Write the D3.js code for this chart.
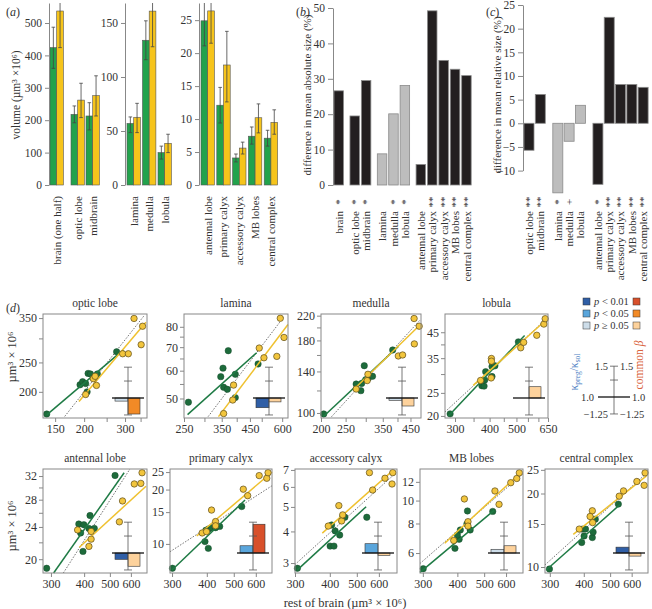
<!DOCTYPE html>
<html>
<head>
<meta charset="utf-8">
<script src="https://cdn.jsdelivr.net/npm/d3@7"></script>
<style>
  body { margin: 0; background: #fff; }
  svg, text { font-family: "Liberation Serif", "Times New Roman", Tinos, "DejaVu Serif", serif !important; }
  text { fill: #333; }
</style>
</head>
<body>
<div class="canvas"></div>
<script>
// ---------- data ----------

// (a) mean volumes (µm³ × 10⁶), green vs yellow group, with error bars
const regionsA1 = ['brain (one half)', 'optic lobe', 'midbrain'];
const regionsA2 = ['lamina', 'medulla', 'lobula'];
const regionsA3 = ['antennal lobe', 'primary calyx', 'accessory calyx', 'MB lobes', 'central complex'];
const volGreen    = [424, 218, 213, 57, 134, 30, 24.9, 12.1, 4.1, 7.4, 7.1];
const volGreenLo  = [360, 192, 170, 48.5, 116, 24, 21.1, 9.4, 3.5, 6.2, 5.9];
const volGreenHi  = [487, 244, 254, 63, 152, 36, 28, 14.8, 4.7, 8.8, 8.3];
const volYellow   = [537, 262, 276, 62.7, 161, 38.6, 26.4, 18.2, 5.6, 10.2, 9.5];
const volYellowLo = [424, 208, 213, 48.5, 128, 30, 21.5, 12.6, 4.7, 7.9, 7.7];
const volYellowHi = [575, 314, 337, 75.6, 172, 47, 28, 23.3, 6.5, 12.3, 11.4];

// (b) difference in mean absolute size (%)
const regionsB = ['brain', 'optic lobe', 'midbrain', 'lamina', 'medulla', 'lobula',
  'antennal lobe', 'primary calyx', 'accessory calyx', 'MB lobes', 'central complex'];
const absDiff = [26.6, 19.5, 29.5, 8.8, 20.1, 28.1, 5.8, 49.2, 35.2, 32.7, 30.9];
const absSig  = ['*', '*', '*', '', '*', '*', '', '**', '**', '**', '**'];

// (c) difference in mean relative size (%)
const regionsC = ['optic lobe', 'midbrain', 'lamina', 'medulla', 'lobula',
  'antennal lobe', 'primary calyx', 'accessory calyx', 'MB lobes', 'central complex'];
const relDiff = [-5.7, 6.1, -14.7, -3.8, 3.8, -12.9, 22.4, 8.2, 8.2, 7.6];
const relSig  = ['**', '**', '*', '+', '', '*', '**', '**', '**', '**'];
const relTicks = [-10, -5, 0, 5, 10, 15, 20, 25];

// (d) region volume vs rest of brain, [x, y] in µm³ × 10⁶
const scatterTitles = ['optic lobe', 'lamina', 'medulla', 'lobula',
  'antennal lobe', 'primary calyx', 'accessory calyx', 'MB lobes', 'central complex'];
const greenPts = [
  [[138,169],[192,211],[197,216],[203,213],[206,200],[208,230],[213,229],[223,225],[228,229],[276,271]],
  [[260,48.8],[347,57.7],[354,61],[371,68.4],[356,53.8],[368,53.1],[395,58.6],[395,50.3],[484,62.7]],
  [[205,99.2],[275,126.4],[287,119.8],[289,127],[296,146.7],[307,132.4],[319,134.6],[300,131],[383,166.6]],
  [[288,20.4],[375,26.8],[382,26.7],[387,30.7],[384,28.3],[408,29.3],[408,32.3],[418,32.5],[508,41]],
  [[289,19],[382,24.4],[399,24.3],[388,23.2],[421,25.6],[417,23.8],[437,23.8],[396,20.9],[523,32.1]],
  [[301,7.33],[394,10.3],[405,9.45],[397,11.9],[406,12.1],[416,12.3],[430,12.3],[445,12.5],[534,16.1]],
  [[306,2.86],[406,4.24],[418,4.02],[401,3.5],[414,3.5],[434,3.87],[445,4.55],[453,4.55],[543,4.55]],
  [[301,5.15],[392,6.28],[406,6.86],[400,7.15],[410,7.51],[445,7.51],[433,7.96],[435,9.04],[537,9.0]],
  [[299,9.81],[393,12.6],[401,13.4],[396,14.3],[406,14.3],[430,13.2],[433,13.9],[441,15.7],[536,18.1]]
];
const yellowPts = [
  [[203,196],[226,210],[219,221],[223,225],[293,267],[310,267],[328,349],[357,329],[352,286]],
  [[356,45.3],[389,54.6],[386,49.5],[489,69.6],[510,65.3],[572,65.9],[590,84.6],[610,74.6]],
  [[275,121.4],[304,130],[306,136.8],[403,158.7],[419,160],[466,175],[465,215],[487,202]],
  [[371,28.2],[405,28.9],[406,34.9],[406,34],[518,38.7],[531,40.8],[592,43.7],[628,48.7],[635,51.3]],
  [[378,23.6],[425,23.4],[425,22.4],[417,21.5],[543,24.7],[558,27.8],[618,30.6],[654,30.7],[661,32.6]],
  [[385,11.5],[399,11.7],[416,15.4],[430,13.3],[430,12.6],[541,20.1],[561,18.5],[617,23.9],[657,23.1],[664,24.8]],
  [[395,4.2],[431,5.06],[441,4.4],[445,4.65],[555,6.83],[570,5.83],[631,6.49],[669,6.16],[673,6.83]],
  [[388,6.78],[424,10.16],[437,8.14],[437,7.8],[547,10.98],[566,9.64],[624,11.9],[656,12.4],[670,13.1]],
  [[385,14.3],[430,17.0],[422,16.1],[431,15.2],[540,19.5],[560,20.5],[627,22.4],[667,21.6],[672,24.3]]
];
// fitted lines [x1, y1, x2, y2]
const greenFit = [[138,168,295,275],[258,45,478,67.5],[204,97,403,171.5],[284,20,535,43.6],[307,18.5,566,32.6],
  [300,7.17,549,17.5],[306,2.82,540,5.01],[293,4.97,543,9.09],[291,9.72,543,18.0]];
const yellowFit = [[190,186,369,339],[340,44.4,632,81.2],[271,121.6,490,204],[349,26.9,650,51.5],[384,21.4,684,30.2],
  [368,11.06,686,25],[376,3.94,676,6.99],[360,6.6,686,13.3],[366,13.6,680,23.6]];
const isoFit = [[165,166,363,357],[310,44.4,606,85],[220,97,490,212],[276,20.8,650,52],[334,18.5,595,33.3],
  [295,9.05,686,21],[300,2.96,684,6.75],[293,5.42,691,12.99],[288,10.2,680,24.2]];
const xTicksD = [[150,200,300],[250,350,450,600],[200,250,350,450],[300,400,500,650],
  [300,400,500,600],[300,400,500,600],[300,400,500,600],[300,400,500,600],[300,400,500,600]];
const yTicksD = [[200,250,350],[50,60,70,80],[100,140,180,220],[20,25,35,45],
  [20,24,28,32],[10,15,20,25],[3,4,5,6,7],[6,8,10,12],[10,15,20,25]];

// inset ratios: slope ratio (kappa) and common beta, with significance class
const slopeRatio = [0.96, 0.88, 0.97, 1.0, 0.92, 1.10, 1.13, 1.05, 1.08];
const slopeP     = ['ns', 'p01', 'ns', 'ns', 'p01', 'p05', 'p05', 'ns', 'p01'];
const betaRatio  = [0.81, 0.95, 0.90, 1.16, 0.84, 1.46, 0.97, 1.10, 0.96];
const betaP      = ['p05', 'ns', 'ns', 'ns', 'ns', 'p01', 'ns', 'ns', 'ns'];
const legendP    = [['p01', 'p < 0.01'], ['p05', 'p < 0.05'], ['ns', 'p ≥ 0.05']];

// ---------- setup ----------
const svg = d3.select('.canvas')
  .append('svg')
  .attr('width', 652)
  .attr('height', 609);

const serif = '"Liberation Serif", "Times New Roman", serif';
const kappaCol = {p01: '#2f5ea6', p05: '#5aa6dc', ns: '#cddde9'};
const betaCol = {p01: '#d8502b', p05: '#f28a26', ns: '#fdd29c'};

// slot positions with an extra gap between groups
const slotsFor = (sizes, gap) => {
  const out = [];
  let s = 0;
  sizes.forEach((n, gi) => {
    for (let i = 0; i < n; i++) out.push(s + i + gi * gap);
    s += n;
  });
  return out;
};

const styleAxis = (g, size) => {
  g.attr('font-family', serif).attr('font-size', size);
  g.selectAll('path, line').attr('stroke', '#888');
};

const panelLabel = (x, y, letter) => {
  const t = svg.append('text').attr('x', x).attr('y', y).attr('font-size', 12);
  t.append('tspan').text('(');
  t.append('tspan').attr('font-style', 'italic').text(letter);
  t.append('tspan').text(')');
};

const rotLabel = (x, y, txt, anchor, size) => svg.append('text')
  .attr('transform', `translate(${x},${y}) rotate(-90)`)
  .attr('text-anchor', anchor)
  .attr('dy', '0.35em')
  .attr('font-size', size)
  .text(txt);

// ---------- (a) ----------
panelLabel(6, 16, 'a');
rotLabel(16, 95, 'volume (µm³ ×10⁶)', 'middle', 11.5);

const aGroups = [regionsA1, regionsA2, regionsA3];
const aSetup = [
  {x0: 50, step: 15, slots: slotsFor([1, 2], 0.4), axisX: 49, max: 561.7, ticks: [0, 100, 200, 300, 400, 500]},
  {x0: 127, step: 15.5, slots: slotsFor([3], 0), axisX: 125, max: 168.5, ticks: [0, 50, 100, 150]},
  {x0: 201, step: 15.8, slots: slotsFor([5], 0), axisX: 199, max: 27.6, ticks: [0, 5, 10, 15, 20, 25]}
];
const bw = 6.7;
let k0 = 0;
aGroups.forEach((cats, gi) => {
  const s = aSetup[gi];
  const y = d3.scaleLinear().domain([0, s.max]).range([185, 3]);
  const slot = d3.scaleLinear().domain([0, 1]).range([s.x0, s.x0 + s.step]);
  const g = svg.append('g');

  cats.forEach((c, i) => {
    const k = k0 + i;
    const x = slot(s.slots[i]);
    const bars = [
      {v: volGreen[k], lo: volGreenLo[k], hi: volGreenHi[k], fill: '#22a24c', x: x},
      {v: volYellow[k], lo: volYellowLo[k], hi: volYellowHi[k], fill: '#f6c41b', x: x + bw}
    ];
    bars.forEach(b => {
      g.append('rect')
        .attr('x', b.x).attr('y', y(b.v))
        .attr('width', bw).attr('height', y(0) - y(b.v))
        .attr('fill', b.fill).attr('stroke', '#555').attr('stroke-width', 0.6);
      const cx = b.x + bw / 2;
      const top = y(Math.min(b.hi, s.max));
      g.append('line').attr('x1', cx).attr('x2', cx).attr('y1', top).attr('y2', y(b.lo))
        .attr('stroke', '#444').attr('stroke-width', 0.8);
      [b.lo, b.hi].forEach(v => {
        if (v > s.max) return;
        g.append('line').attr('x1', cx - 1.8).attr('x2', cx + 1.8).attr('y1', y(v)).attr('y2', y(v))
          .attr('stroke', '#444').attr('stroke-width', 0.8);
      });
    });
    rotLabel(x + bw, 196, c, 'end', 11);
  });

  g.append('g')
    .attr('transform', `translate(${s.axisX},0)`)
    .call(d3.axisLeft(y).tickValues(s.ticks).tickSize(4).tickSizeOuter(0).tickPadding(3))
    .call(a => styleAxis(a, 11.5));
  k0 += cats.length;
});

// ---------- (b) ----------
panelLabel(296, 16, 'b');
rotLabel(307, 95, 'difference in mean absolute size (%)', 'middle', 11);
const yB = d3.scaleLinear().domain([0, 50]).range([185, 8]);
const slotB = d3.scaleLinear().domain([0, 1]).range([334, 345.4]);
const bSlots = slotsFor([1, 2, 3, 5], 0.4);
regionsB.forEach((c, i) => {
  const x = slotB(bSlots[i]);
  svg.append('rect')
    .attr('x', x).attr('y', yB(absDiff[i]))
    .attr('width', 9.5).attr('height', yB(0) - yB(absDiff[i]))
    .attr('fill', regionsA2.includes(c) ? '#bdbdbd' : '#231f20')
    .attr('stroke', '#8a8a8a').attr('stroke-width', 0.8);
  rotLabel(x + 5, 211, c, 'end', 11);
  if (absSig[i]) rotLabel(x + 5, 202, absSig[i], 'middle', 11);
});
svg.append('g')
  .attr('transform', 'translate(333,0)')
  .call(d3.axisLeft(yB).tickValues([0, 10, 20, 30, 40, 50]).tickSize(5).tickSizeOuter(0).tickPadding(3))
  .call(a => styleAxis(a, 11.5));

// ---------- (c) ----------
panelLabel(486, 16, 'c');
rotLabel(497, 95, 'difference in mean relative size (%)', 'middle', 11);
const yC = d3.scaleLinear().domain([-10, 25]).range([170.6, 5]);
const slotC = d3.scaleLinear().domain([0, 1]).range([524, 535.3]);
const cSlots = slotsFor([2, 3, 5], 0.55);
regionsC.forEach((c, i) => {
  const x = slotC(cSlots[i]);
  const v = relDiff[i];
  svg.append('rect')
    .attr('x', x).attr('y', Math.min(yC(v), yC(0)))
    .attr('width', 10).attr('height', Math.abs(yC(v) - yC(0)))
    .attr('fill', regionsA2.includes(c) ? '#bdbdbd' : '#231f20')
    .attr('stroke', '#8a8a8a').attr('stroke-width', 0.8);
  rotLabel(x + 5, 211, c, 'end', 11);
  if (relSig[i]) rotLabel(x + 5, 202, relSig[i], 'middle', 11);
});
svg.append('g')
  .attr('transform', 'translate(523,0)')
  .call(d3.axisLeft(yC).tickValues(relTicks).tickFormat(d => d < 0 ? '−' + (-d) : d)
    .tickSize(5).tickSizeOuter(0).tickPadding(3))
  .call(a => styleAxis(a, 11.5));

// ---------- (d) ----------
panelLabel(6, 312, 'd');
rotLabel(12, 357, 'µm³ × 10⁶', 'middle', 12.5);
rotLabel(12, 526, 'µm³ × 10⁶', 'middle', 12.5);
svg.append('text').attr('x', 345).attr('y', 607).attr('text-anchor', 'middle')
  .attr('font-size', 12.5).text('rest of brain (µm³ × 10⁶)');

const dPanels = [
  {x: 43, y: 314, w: 104, h: 104, xd: [133, 373], yd: [164, 361], xm: [250, 350], ym: [300]},
  {x: 184, y: 314, w: 104, h: 104, xd: [250, 632], yd: [44, 87], xm: [300, 400, 500], ym: [55, 65, 75]},
  {x: 321, y: 314, w: 100, h: 104, xd: [200, 495], yd: [96, 223], xm: [300, 400], ym: [120, 160, 200]},
  {x: 445, y: 314, w: 103, h: 104, xd: [276, 650], yd: [19.6, 53.7], xm: [350, 450, 550, 600], ym: [30, 40]},
  {x: 43, y: 469, w: 104, h: 104, xd: [280, 690], yd: [18.5, 33.3], xm: [], ym: [22, 26, 30]},
  {x: 170, y: 469, w: 102, h: 104, xd: [295, 686], yd: [6.9, 26], xm: [], ym: []},
  {x: 295, y: 469, w: 102, h: 104, xd: [300, 697], yd: [2.74, 7.06], xm: [], ym: []},
  {x: 420, y: 469, w: 103, h: 104, xd: [293, 691], yd: [4.94, 13.6], xm: [], ym: []},
  {x: 545, y: 469, w: 103, h: 104, xd: [288, 689], yd: [9.45, 25.2], xm: [], ym: []}
];

// inset: ratio bars on a log scale around 1, with a reference bar (1.5 / 1.25 / 0.8)
const drawInset = (g, cx, base, kv, kp, bv, bp) => {
  const yI = d3.scaleLog().domain([1, 1.5]).range([base, base - 76 * Math.log(1.5)]);
  if (kv !== null) {
    [[kv, kappaCol[kp], cx - 13, 13], [bv, betaCol[bp], cx, 12]].forEach(([v, col, x, w]) => {
      g.append('rect')
        .attr('x', x).attr('y', Math.min(yI(v), base))
        .attr('width', w).attr('height', Math.abs(yI(v) - base))
        .attr('fill', col).attr('stroke', '#333').attr('stroke-width', 0.6);
    });
  }
  g.append('line').attr('x1', cx).attr('x2', cx).attr('y1', yI(1.5)).attr('y2', yI(0.8))
    .attr('stroke', '#555').attr('stroke-width', 0.8);
  [1.5, 1.25, 0.8].forEach(v => {
    g.append('line').attr('x1', cx - 4).attr('x2', cx + 4).attr('y1', yI(v)).attr('y2', yI(v))
      .attr('stroke', '#555').attr('stroke-width', 0.8);
  });
  g.append('line').attr('x1', cx - 16).attr('x2', cx + 16).attr('y1', base).attr('y2', base)
    .attr('stroke', '#111').attr('stroke-width', 1.3);
  return yI;
};

dPanels.forEach((p, i) => {
  const g = svg.append('g');
  const x = d3.scaleLog().domain(p.xd).range([p.x, p.x + p.w]);
  const y = d3.scaleLog().domain(p.yd).range([p.y + p.h, p.y]);

  g.append('text').attr('x', p.x + p.w / 2).attr('y', p.y - 7)
    .attr('text-anchor', 'middle').attr('font-size', 11.5).text(scatterTitles[i]);

  const seg = (f, col, w, dash) => g.append('line')
    .attr('x1', x(f[0])).attr('y1', y(f[1])).attr('x2', x(f[2])).attr('y2', y(f[3]))
    .attr('stroke', col).attr('stroke-width', w).attr('stroke-dasharray', dash);

  seg(isoFit[i], '#333', 0.7, '1.5,1.5');

  g.selectAll('.gdot').data(greenPts[i]).enter().append('circle')
    .attr('cx', d => x(d[0])).attr('cy', d => y(d[1])).attr('r', 3.2)
    .attr('fill', '#1d6b3b').attr('stroke', '#164d2c').attr('stroke-width', 0.5);

  seg(greenFit[i], '#1f7b45', 1.5, null);
  seg(yellowFit[i], '#efc12f', 1.5, null);

  g.selectAll('.ydot').data(yellowPts[i]).enter().append('circle')
    .attr('cx', d => x(d[0])).attr('cy', d => y(d[1])).attr('r', 3.2)
    .attr('fill', '#f2c53d').attr('stroke', '#5c4b1a').attr('stroke-width', 0.7);

  drawInset(g, p.x + p.w - 19, p.y + p.h - 20, slopeRatio[i], slopeP[i], betaRatio[i], betaP[i]);

  g.append('rect').attr('x', p.x).attr('y', p.y).attr('width', p.w).attr('height', p.h)
    .attr('fill', 'none').attr('stroke', '#888').attr('stroke-width', 1);

  // axes
  g.append('g').attr('transform', `translate(${p.x},0)`)
    .call(d3.axisLeft(y).tickValues(yTicksD[i]).tickFormat(d3.format('d')).tickSize(4).tickPadding(2))
    .call(a => { styleAxis(a, 12); a.select('.domain').remove(); });
  g.append('g').attr('transform', `translate(${p.x},0)`)
    .call(d3.axisLeft(y).tickValues(p.ym).tickFormat('').tickSize(4))
    .call(a => { styleAxis(a, 12); a.select('.domain').remove(); });
  g.append('g').attr('transform', `translate(0,${p.y + p.h})`)
    .call(d3.axisBottom(x).tickValues(xTicksD[i]).tickFormat(d3.format('d')).tickSize(4).tickPadding(2))
    .call(a => { styleAxis(a, 12); a.select('.domain').remove(); });
  g.append('g').attr('transform', `translate(0,${p.y + p.h})`)
    .call(d3.axisBottom(x).tickValues(p.xm).tickFormat('').tickSize(4))
    .call(a => { styleAxis(a, 12); a.select('.domain').remove(); });
});

// ---------- legend ----------
const lg = svg.append('g');
legendP.forEach((d, i) => {
  const yy = 298 + i * 12;
  lg.append('rect').attr('x', 583).attr('y', yy).attr('width', 7).attr('height', 7)
    .attr('fill', kappaCol[d[0]]).attr('stroke', '#333').attr('stroke-width', 0.5);
  lg.append('rect').attr('x', 633).attr('y', yy).attr('width', 7).attr('height', 7)
    .attr('fill', betaCol[d[0]]).attr('stroke', '#333').attr('stroke-width', 0.5);
  const t = lg.append('text').attr('x', 594).attr('y', yy + 7).attr('font-size', 10.5);
  t.append('tspan').attr('font-style', 'italic').text('p');
  t.append('tspan').text(d[1].slice(1));
});

const yL = drawInset(lg, 614, 397, null);
[[1.5, '1.5'], [1.0, '1.0'], [0.8, '−1.25']].forEach(([v, s]) => {
  lg.append('text').attr('x', v === 1.0 ? 594 : 608).attr('y', yL(v)).attr('dy', '0.35em')
    .attr('text-anchor', 'end').attr('font-size', 10.5).text(s);
  lg.append('text').attr('x', v === 1.0 ? 632 : 620).attr('y', yL(v)).attr('dy', '0.35em')
    .attr('font-size', 10.5).text(s);
});

const kl = lg.append('text')
  .attr('transform', 'translate(578,372) rotate(-90)')
  .attr('text-anchor', 'middle').attr('font-size', 11.5).style('fill', '#4f7fc4');
kl.append('tspan').style('fill', '#4f7fc4').text('κ');
kl.append('tspan').style('fill', '#4f7fc4').attr('font-size', 7.5).attr('dy', 2).text('preg');
kl.append('tspan').style('fill', '#4f7fc4').attr('dy', -2).text('/κ');
kl.append('tspan').style('fill', '#4f7fc4').attr('font-size', 7.5).attr('dy', 2).text('sol');

const bl = lg.append('text')
  .attr('transform', 'translate(639,365) rotate(-90)')
  .attr('text-anchor', 'middle').attr('dy', '0.35em').attr('font-size', 11.5);
bl.append('tspan').style('fill', '#d9623b').text('common ');
bl.append('tspan').style('fill', '#d9623b').attr('font-style', 'italic').text('β');
</script>
</body>
</html>
